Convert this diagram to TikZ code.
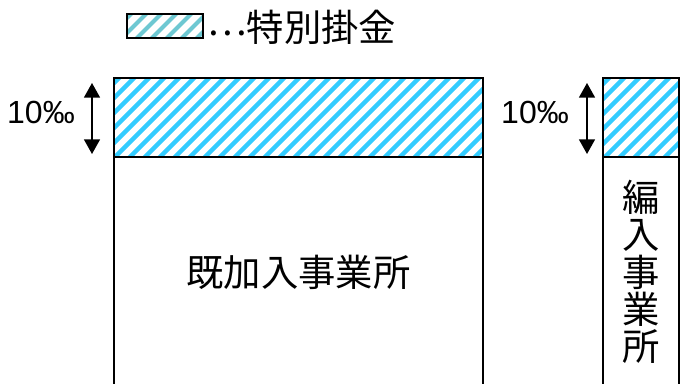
\documentclass[tikz,border=0pt]{standalone}
\usepackage{fontspec}
\setmainfont{Liberation Sans}
\newfontfamily\jpfont{Noto Sans CJK JP}
\usetikzlibrary{arrows.meta}
\definecolor{hatchblue}{RGB}{51,204,255}
\definecolor{legendblue}{RGB}{110,200,210}
\tikzset{
  frame/.style={line width=1.6pt, draw=black},
  hatchline/.style={line width=3.2pt, draw=hatchblue},
  dimarrow/.style={line width=1.2pt, {Triangle[length=11pt,width=12pt]}-{Triangle[length=11pt,width=12pt]}},
  jp/.style={font=\jpfont\fontsize{28pt}{28pt}\selectfont, inner sep=0pt},
  pct/.style={font=\fontsize{24pt}{28pt}\selectfont, inner sep=0pt}
}
\begin{document}
\begin{tikzpicture}[x=0.75pt,y=-0.75pt]
\useasboundingbox (0,0) rectangle (681,384);
% legend
\begin{scope}
  \clip (127,14) rectangle (203,38);
  \foreach \i in {-30,-15,...,210} {
    \draw[line width=3pt, draw=legendblue] (\i,40) -- ++(28,-28);
  }
\end{scope}
\draw[line width=1.5pt] (127,14) rectangle (203,38);
\node[jp, anchor=west] (legtext) at (207,27) {\raisebox{0.16em}{…}特別掛金};
% main hatch
\begin{scope}
  \clip (114,78) rectangle (483,157);
  \foreach \i in {22,37,...,500} {
    \draw[hatchline] (\i,160) -- ++(85,-85);
  }
\end{scope}
\begin{scope}
  \clip (603,78) rectangle (679,157);
  \foreach \i in {512,527,...,690} {
    \draw[hatchline] (\i,160) -- ++(85,-85);
  }
\end{scope}
% frames
\coordinate (m1) at (114,384);
\coordinate (m2) at (114,78);
\coordinate (m3) at (483,78);
\coordinate (m4) at (483,384);
\draw[frame] (m1) -- (m2) -- (m3) -- (m4);
\draw[frame] (114,157) -- (483,157);
\coordinate (r1) at (603,384);
\coordinate (r2) at (603,78);
\coordinate (r3) at (679,78);
\coordinate (r4) at (679,384);
\draw[frame] (r1) -- (r2) -- (r3) -- (r4);
\draw[frame] (603,157) -- (679,157);
% arrows
\coordinate (a1t) at (92,83);
\coordinate (a1b) at (92,154);
\draw[dimarrow] (a1t) -- (a1b);
\coordinate (a2t) at (587,83);
\coordinate (a2b) at (587,154);
\draw[dimarrow] (a2t) -- (a2b);
% labels
\node[pct] (p1) at (41,112) {10‰};
\node[pct] (p2) at (535,112) {10‰};
\node[jp] (main) at (298.5,272) {既加入事業所};
\node[jp, align=center, font=\jpfont\fontsize{28pt}{28pt}\selectfont] (side) at (641,272) {編\\入\\事\\業\\所};
\end{tikzpicture}
\end{document}
